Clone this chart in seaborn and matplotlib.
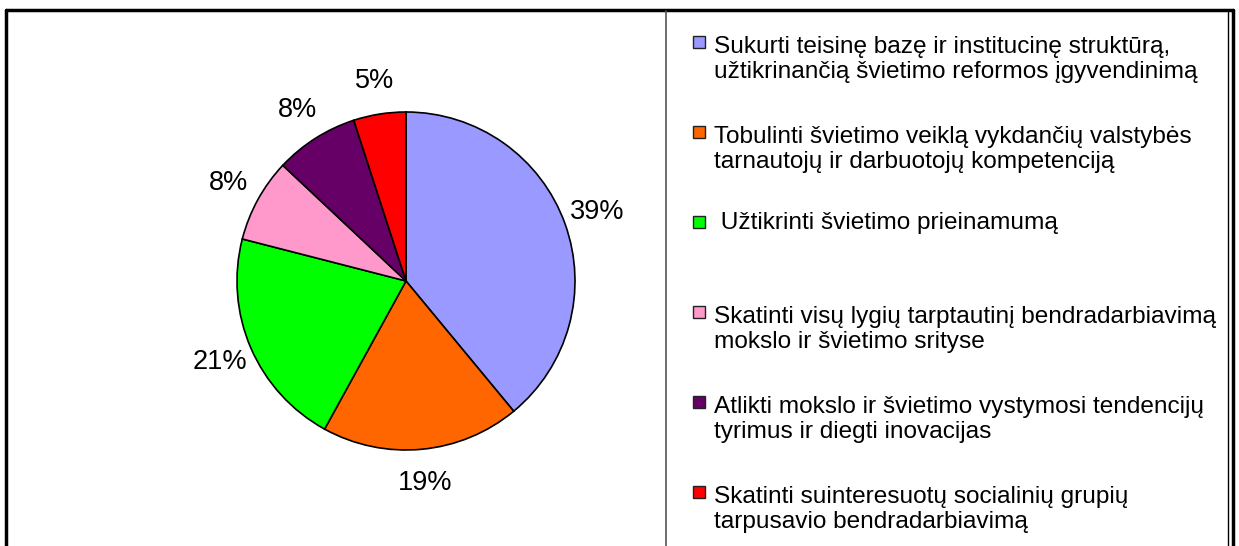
import matplotlib
matplotlib.use("Agg")
import matplotlib.pyplot as plt
import seaborn as sns
from matplotlib.patches import Rectangle
from matplotlib.lines import Line2D

categories = [
    "Sukurti teisinę bazę ir institucinę struktūrą,\nužtikrinančią švietimo reformos įgyvendinimą",
    "Tobulinti švietimo veiklą vykdančių valstybės\ntarnautojų ir darbuotojų kompetenciją",
    " Užtikrinti švietimo prieinamumą",
    "Skatinti visų lygių tarptautinį bendradarbiavimą\nmokslo ir švietimo srityse",
    "Atlikti mokslo ir švietimo vystymosi tendencijų\ntyrimus ir diegti inovacijas",
    "Skatinti suinteresuotų socialinių grupių\ntarpusavio bendradarbiavimą",
]
values = [39, 19, 21, 8, 8, 5]
colors = ["#9999FF", "#FF6600", "#00FF00", "#FF99CC", "#660066", "#FF0000"]

sns.set_theme(style="white")
plt.rcParams["font.family"] = ["Liberation Sans", "DejaVu Sans"]

W, H = 1239, 546
fig = plt.figure(figsize=(W / 100, H / 100), dpi=100)
fig.patch.set_facecolor("white")

# pie axes: center (406, 281), radius 169 px
cx, cy, r = 406, 281, 169
ax = fig.add_axes([(cx - r) / W, 1 - (cy + r) / H, 2 * r / W, 2 * r / H])
wedges, texts, autotexts = ax.pie(
    values, colors=colors, startangle=90, counterclock=False,
    autopct=lambda p: f"{p:.0f}%", pctdistance=1.2,
    wedgeprops=dict(edgecolor="black", linewidth=1.2),
    textprops=dict(fontsize=19.5, color="black"),
)
ax.set_xlim(-1, 1)
ax.set_ylim(-1, 1)
ax.set_aspect("equal")
ax.axis("off")

def fx(x):
    return x / W

def fy(y):
    return 1 - y / H

# outer frame
fig.add_artist(Line2D([fx(6), fx(1233)], [fy(10), fy(10)], color="black", lw=2.5))
fig.add_artist(Line2D([fx(6), fx(6)], [fy(10), fy(560)], color="black", lw=2.5))
fig.add_artist(Line2D([fx(1233), fx(1233)], [fy(10), fy(560)], color="black", lw=2.5))
fig.add_artist(Line2D([fx(1228), fx(1228)], [fy(12), fy(560)], color="black", lw=1.0))
# legend box left edge
fig.add_artist(Line2D([fx(666), fx(666)], [fy(11), fy(560)], color="#555555", lw=1.2))

# legend entries
first_line_y = [42, 132, 222, 312, 402, 492]
for lab, col, yc in zip(categories, colors, first_line_y):
    fig.add_artist(Rectangle((fx(693), fy(yc + 6)), 12 / W, 12 / H,
                             facecolor=col, edgecolor="#222222", lw=1.0,
                             transform=fig.transFigure))
    nl = lab.count("\n")
    fig.text(fx(714), fy(yc + 7 + 29 * nl), lab, fontsize=17.6, ha="left",
             va="baseline", linespacing=1.18, color="black")

fig.savefig("out.png", dpi=100)
